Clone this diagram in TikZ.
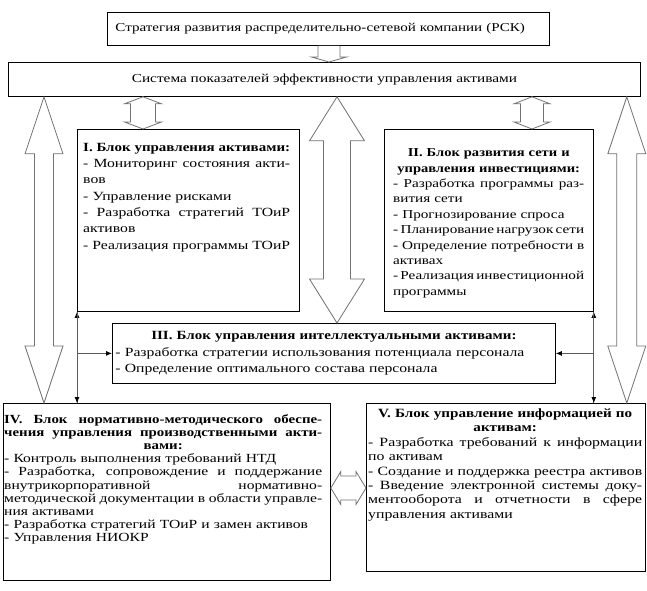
\documentclass[tikz,border=0pt]{standalone}
\usepackage{fontspec}
\setmainfont{Liberation Serif}[UprightFeatures={FakeStretch=1.256}, BoldFeatures={FakeStretch=1.2}]
\usetikzlibrary{arrows.meta, positioning, calc}
\definecolor{arrowgray}{RGB}{115, 115, 115}
\definecolor{linkgray}{RGB}{90, 90, 90}
\setlength{\parindent}{0pt}
\exhyphenpenalty=10000
\newcommand\jline[1]{\makebox[\linewidth][s]{\spaceskip=0.25em plus 1fil minus 0.2em\relax #1}}
\newcommand\ctrline[1]{\makebox[\linewidth][c]{#1}}
% tips, shaft half width, head half width, head length
\newcommand\vdouble[5]{%
  \draw[hollow] (#1) -- ++(#4,#5) -- ++(#3-#4,0) -- ($(#2)+(#3,-#5)$) -- ++(#4-#3,0) -- (#2)
    -- ++(-#4,-#5) -- ++(#4-#3,0) -- ($(#1)+(-#3,#5)$) -- ++(#3-#4,0) -- cycle;}
\newcommand\hdouble[5]{%
  \draw[hollow] (#1) -- ++(#5,-#4) -- ++(0,#4-#3) -- ($(#2)+(-#5,-#3)$) -- ++(0,#3-#4) -- (#2)
    -- ++(-#5,#4) -- ++(0,#3-#4) -- ($(#1)+(#5,#3)$) -- ++(0,#4-#3) -- cycle;}
\newcommand\vsingle[5]{%
  \draw[hollow] ($(#1)+(-#3,0)$) -- ($(#2)+(-#3,-#5)$) -- ++(#3-#4,0) -- (#2)
    -- ++(#4,-#5) -- ++(#3-#4,0) -- ($(#1)+(#3,0)$);}

\begin{document}
\begin{tikzpicture}[x=1pt, y=-1pt,
  boxframe/.style={draw, line width=0.8pt, anchor=north west, inner sep=0pt},
  blocktext/.style={anchor=north west, text width=#1, align=left, inner sep=0pt},
  hollow/.style={draw=arrowgray, line width=0.8pt, fill=white},
  link/.style={draw=linkgray, line width=0.8pt},
  tip/.style={-{Latex[length=6pt, width=5pt, color=black]}}]

  \useasboundingbox (0,0) rectangle (647,590);

  \node[boxframe, minimum width=442pt, minimum height=33pt, text width=426pt, inner xsep=8pt, align=left, font=\fontsize{12}{14}\selectfont] (strat) at (107,12) {Стратегия развития распределительно-сетевой компании (РСК)};
  \node[boxframe, minimum width=632pt, minimum height=34pt, font=\fontsize{12.2}{14}\selectfont] (kpi) at (8,62) {Система показателей эффективности управления активами};

  \node[boxframe, minimum width=222pt, minimum height=182pt] (b1) at (77,129) {};
  \node[blocktext=207pt, inner xsep=6pt, inner ysep=14pt, font=\fontsize{12.5}{16.3}\selectfont] (b1t) at (b1.north west) {%
    \jline{\textbf{I. Блок управления активами:}}\\
    \jline{- Мониторинг состояния акти-}\\
    вов\\
    - Управление рисками\\
    \jline{- Разработка стратегий ТОиР}\\
    активов\\
    \jline{- Реализация программы ТОиР}};

  \node[boxframe, minimum width=209pt, minimum height=182pt] (b2) at (384,129) {};
  \node[blocktext=191pt, inner xsep=9pt, inner ysep=19.5pt, font=\fontsize{12.1}{15.4}\selectfont] (b2t) at (b2.north west) {%
    \ctrline{\textbf{II. Блок развития сети и}}\\
    \ctrline{\textbf{управления инвестициями:}}\\
    \jline{- Разработка программы раз-}\\
    вития сети\\
    - Прогнозирование спроса\\
    \jline{- Планирование нагрузок сети}\\
    \jline{- Определение потребности в}\\
    активах\\
    \jline{- Реализация инвестиционной}\\
    программы};

  \node[boxframe, minimum width=443pt, minimum height=60pt, text width=437pt, inner xsep=3pt, align=left, font=\fontsize{12.5}{16.5}\selectfont] (b3) at (112,323) {%
    \ctrline{\textbf{III. Блок управления интеллектуальными активами:}}\\
    - Разработка стратегии использования потенциала персонала\\
    - Определение оптимального состава персонала};

  \node[boxframe, minimum width=327pt, minimum height=177pt] (b4) at (3,403) {};
  \node[blocktext=318pt, inner xsep=1pt, inner ysep=11pt, font=\fontsize{12.4}{13.2}\selectfont] (b4t) at (b4.north west) {%
    \jline{\textbf{IV. Блок нормативно-методического обеспе-}}\\
    \jline{\textbf{чения управления производственными акти-}}\\
    \ctrline{\textbf{вами:}}\\
    - Контроль выполнения требований НТД\\
    \jline{- Разработка, сопровождение и поддержание}\\
    \jline{внутрикорпоративной нормативно-}\\
    \jline{методической документации в области управле-}\\
    ния активами\\
    - Разработка стратегий ТОиР и замен активов\\
    - Управления НИОКР};

  \node[boxframe, minimum width=279pt, minimum height=168pt] (b5) at (366,403) {};
  \node[blocktext=274pt, inner xsep=2pt, inner ysep=5.5pt, font=\fontsize{12.6}{14.4}\selectfont] (b5t) at (b5.north west) {%
    \ctrline{\textbf{V. Блок управление информацией по}}\\
    \ctrline{\textbf{активам:}}\\
    \jline{- Разработка требований к информации}\\
    по активам\\
    \jline{- Создание и поддержка реестра активов}\\
    \jline{- Введение электронной системы доку-}\\
    \jline{ментооборота и отчетности в сфере}\\
    управления активами};

  \coordinate (dTop) at ($(strat.south west)+(222,0)$);
  \coordinate (dBot) at ($(kpi.north west)+(321,0)$);
  \coordinate (lTop) at ($(kpi.south west)+(36,0)$);
  \coordinate (lBot) at ($(b4.north west)+(41,0)$);
  \coordinate (mTop) at ($(kpi.south west)+(329,0)$);
  \coordinate (mBot) at ($(b3.north west)+(225,0)$);
  \coordinate (rTop) at ($(kpi.south east)+(-14,0)$);
  \coordinate (rBot) at ($(b5.north east)+(-19,0)$);
  \coordinate (s1Top) at ($(kpi.south west)+(135,0)$);
  \coordinate (s1Bot) at ($(b1.north west)+(66,0)$);
  \coordinate (s2Top) at ($(kpi.south west)+(524,0)$);
  \coordinate (s2Bot) at ($(b2.north west)+(148,0)$);
  \coordinate (hL) at ($(b4.north east)+(0,85)$);
  \coordinate (hR) at ($(b5.north west)+(0,85)$);

  \vsingle{dTop}{dBot}{11}{17.5}{5}
  \vdouble{lTop}{lBot}{9.5}{19}{57}
  \vdouble{mTop}{mBot}{13.5}{27.5}{44}
  \vdouble{rTop}{rBot}{10}{19}{57}
  \vdouble{s1Top}{s1Bot}{12.5}{18.5}{7}
  \vdouble{s2Top}{s2Bot}{11.5}{18}{7}
  \hdouble{hL}{hR}{12}{16.5}{10}

  \draw[link, tip] (b4.north -| b1.west) -- (b1.south west);
  \draw[link, tip] (b1.south west) -- (b4.north -| b1.west);
  \draw[link, tip] (b1.west |- b3.west) -- (b3.west);
  \draw[link, tip] (b5.north -| b2.east) -- (b2.south east);
  \draw[link, tip] (b2.south east) -- (b5.north -| b2.east);
  \draw[link, tip] (b2.east |- b3.east) -- (b3.east);
\end{tikzpicture}
\end{document}
